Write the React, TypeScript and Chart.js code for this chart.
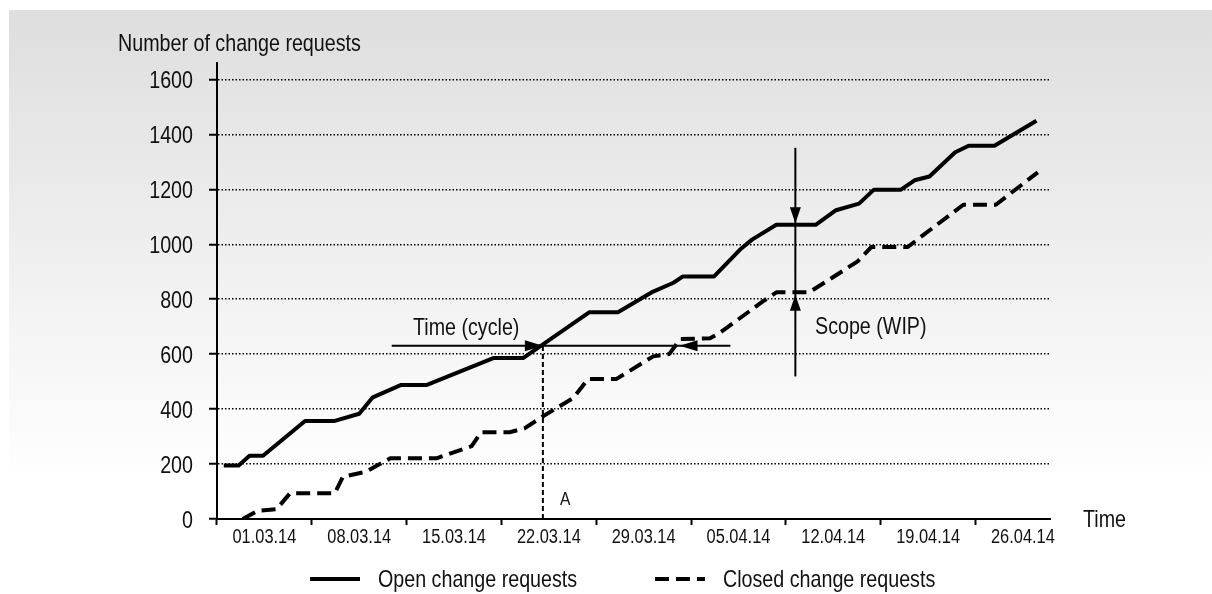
import React, { useEffect, useRef } from "react";
import { Chart, registerables } from "chart.js";

Chart.register(...registerables);

const FONT = "'Liberation Sans', Arial, sans-serif";
const NARROW = 0.82; // horizontal condensing, Arial Narrow-like
const INK = "#111111";

// x axis: days counted from 01.03.14, one label per week
const weekLabels = ["01.03.14", "08.03.14", "15.03.14", "22.03.14", "29.03.14", "05.04.14", "12.04.14", "19.04.14", "26.04.14"];
const weekDays = [0, 7, 14, 21, 28, 35, 42, 49, 56];
const yTicks = [0, 200, 400, 600, 800, 1000, 1200, 1400, 1600];

// Open change requests (cumulative)
const openDays = [-3, -1.9, -1.1, -0.1, 3, 5.2, 7, 8, 10.1, 12, 16.9, 19.1, 24, 26.1, 28.7, 30.2, 30.9, 33.2, 35.1, 36, 37.8, 40.7, 42.2, 43.9, 45, 47, 48, 49.1, 51, 52, 53.9, 57];
const openValues = [195, 195, 230, 230, 357, 357, 383, 443, 488, 488, 586, 586, 753, 753, 828, 860, 883, 883, 980, 1017, 1071, 1071, 1124, 1148, 1199, 1199, 1233, 1247, 1335, 1359, 1359, 1450];

// Closed change requests (cumulative)
const closedDays = [-1.6, -0.5, 0.9, 1.9, 5.2, 5.8, 7.5, 9.3, 12.7, 15.3, 16, 18.1, 19.2, 20.6, 22.8, 23.9, 26, 28.7, 29.9, 30.7, 32.9, 33.6, 36.8, 37.8, 40.2, 41.5, 43.8, 44.8, 47.5, 48.2, 51.6, 54, 57.1];
const closedValues = [0, 30, 36, 94, 94, 154, 172, 221, 221, 265, 316, 316, 330, 375, 440, 510, 510, 592, 601, 655, 658, 677, 792, 825, 825, 865, 938, 990, 990, 1017, 1144, 1144, 1262];

// annotation anchors (data units)
const cycleLevel = 631;
const cycleLineFrom = 9.4;
const cycleLineTo = 34.4;
const cycleStartDay = 20.56;
const cycleEndDay = 30.65;
const scopeDay = 39.2;
const scopeFrom = 1351;
const scopeTo = 519;
const scopeOpen = 1077;
const scopeClosed = 816;

function narrowText(
  ctx: CanvasRenderingContext2D,
  text: string,
  x: number,
  y: number,
  size: number,
  align: CanvasTextAlign,
  baseline: CanvasTextBaseline
) {
  ctx.save();
  ctx.translate(x, y);
  ctx.scale(NARROW, 1);
  ctx.font = `${size}px ${FONT}`;
  ctx.fillStyle = INK;
  ctx.textAlign = align;
  ctx.textBaseline = baseline;
  ctx.fillText(text, 0, 0);
  ctx.restore();
}

function arrowHead(ctx: CanvasRenderingContext2D, x: number, y: number, dir: string, len: number, half: number) {
  ctx.beginPath();
  ctx.moveTo(x, y);
  if (dir === "right") {
    ctx.lineTo(x - len, y - half);
    ctx.lineTo(x - len, y + half);
  } else if (dir === "left") {
    ctx.lineTo(x + len, y - half);
    ctx.lineTo(x + len, y + half);
  } else if (dir === "down") {
    ctx.lineTo(x - half, y - len);
    ctx.lineTo(x + half, y - len);
  } else {
    ctx.lineTo(x - half, y + len);
    ctx.lineTo(x + half, y + len);
  }
  ctx.closePath();
  ctx.fill();
}

const decorPlugin = {
  id: "decor",
  beforeDraw(chart: any) {
    const { ctx, width, height } = chart;
    ctx.save();
    ctx.fillStyle = "#ffffff";
    ctx.fillRect(0, 0, width, height);
    const g = ctx.createLinearGradient(0, 10, 0, 480);
    g.addColorStop(0, "#dedede");
    g.addColorStop(1, "#ffffff");
    ctx.fillStyle = g;
    ctx.fillRect(9, 10, width - 9, height - 10);
    ctx.restore();
  },
  afterDatasetsDraw(chart: any) {
    const { ctx } = chart;
    const xs = chart.scales.x;
    const ys = chart.scales.y;
    ctx.save();
    ctx.fillStyle = "#000";
    ctx.strokeStyle = "#000";

    // tick labels from the scales' own ticks
    xs.ticks.forEach((t: any, i: number) => {
      narrowText(ctx, String(t.label), xs.getPixelForTick(i), ys.bottom + 18, 20, "center", "middle");
    });
    ys.ticks.forEach((t: any, i: number) => {
      narrowText(ctx, String(t.label), ys.right - 24, ys.getPixelForTick(i) + 2, 24, "right", "middle");
    });

    // Vertical dashed marker A
    const xA = xs.getPixelForValue(cycleStartDay);
    const yCycle = ys.getPixelForValue(cycleLevel);
    ctx.lineWidth = 2;
    ctx.setLineDash([5, 3]);
    ctx.beginPath();
    ctx.moveTo(xA, ys.getPixelForValue(0));
    ctx.lineTo(xA, yCycle);
    ctx.stroke();
    ctx.setLineDash([]);

    // Time (cycle) arrow
    ctx.lineWidth = 2;
    ctx.beginPath();
    ctx.moveTo(xs.getPixelForValue(cycleLineFrom), yCycle);
    ctx.lineTo(xs.getPixelForValue(cycleLineTo), yCycle);
    ctx.stroke();
    arrowHead(ctx, xA, yCycle, "right", 18, 5.5);
    arrowHead(ctx, xs.getPixelForValue(cycleEndDay), yCycle, "left", 18, 5.5);

    // Scope (WIP) arrow
    const xS = xs.getPixelForValue(scopeDay);
    ctx.beginPath();
    ctx.moveTo(xS, ys.getPixelForValue(scopeFrom));
    ctx.lineTo(xS, ys.getPixelForValue(scopeTo));
    ctx.stroke();
    arrowHead(ctx, xS, ys.getPixelForValue(scopeOpen), "down", 16, 5.5);
    arrowHead(ctx, xS, ys.getPixelForValue(scopeClosed), "up", 16, 5.5);

    // Texts
    narrowText(ctx, "Number of change requests", 118, 51, 24, "left", "alphabetic");
    narrowText(ctx, "Time", 1083, 527, 24, "left", "alphabetic");
    narrowText(ctx, "Time (cycle)", 413, 335, 24, "left", "alphabetic");
    narrowText(ctx, "Scope (WIP)", 815, 334, 24, "left", "alphabetic");
    narrowText(ctx, "A", xA + 17, 505, 19, "left", "alphabetic");

    // Legend
    const legendY = 579;
    const legendX = [310, 655];
    chart.data.datasets.forEach((ds: any, i: number) => {
      const x0 = legendX[i];
      ctx.save();
      ctx.strokeStyle = ds.borderColor;
      ctx.lineWidth = ds.borderWidth;
      ctx.setLineDash(ds.borderDash || []);
      ctx.beginPath();
      ctx.moveTo(x0, legendY);
      ctx.lineTo(x0 + 50, legendY);
      ctx.stroke();
      ctx.restore();
      narrowText(ctx, ds.label, x0 + 68, legendY + 1, 24, "left", "middle");
    });
    ctx.restore();
  },
};

export default function App() {
  const ref = useRef<HTMLCanvasElement | null>(null);

  useEffect(() => {
    document.body.style.margin = "0";
    const canvas = ref.current;
    if (!canvas) return;
    const chart = new Chart(canvas, {
      type: "line",
      data: {
        datasets: [
          {
            label: "Open change requests",
            data: openDays.map((d, i) => ({ x: d, y: openValues[i] })),
            borderColor: "#000",
            borderWidth: 4,
            pointRadius: 0,
            tension: 0,
            fill: false,
            borderJoinStyle: "round",
          },
          {
            label: "Closed change requests",
            data: closedDays.map((d, i) => ({ x: d, y: closedValues[i] })),
            borderColor: "#000",
            borderWidth: 4,
            borderDash: [14, 7],
            pointRadius: 0,
            tension: 0,
            fill: false,
            borderJoinStyle: "round",
          },
        ],
      },
      options: {
        animation: false,
        responsive: false,
        devicePixelRatio: 1,
        layout: { padding: { top: 63, right: 162, left: 0, bottom: 0 } },
        plugins: {
          legend: { display: false },
          tooltip: { enabled: false },
          title: { display: false },
        },
        scales: {
          x: {
            type: "linear",
            min: -3.5,
            max: 58,
            afterBuildTicks: (s: any) => {
              s.ticks = weekDays.map((v) => ({ value: v }));
            },
            afterFit: (s: any) => {
              s.height = 75;
            },
            ticks: {
              display: false,
              callback: (_v: any, i: number) => weekLabels[i],
              autoSkip: false,
              maxRotation: 0,
              minRotation: 0,
            },
            grid: {
              offset: true,
              drawOnChartArea: false,
              drawTicks: true,
              tickLength: 6,
              tickWidth: 2,
              tickColor: "#000",
              color: "#000",
            },
            border: { display: true, color: "#000", width: 2 },
          },
          y: {
            type: "linear",
            min: 0,
            max: 1660,
            afterBuildTicks: (s: any) => {
              s.ticks = yTicks.map((v) => ({ value: v }));
            },
            afterFit: (s: any) => {
              s.width = 217;
            },
            ticks: {
              display: false,
              callback: (v: any) => String(v),
            },
            grid: {
              color: "#000",
              lineWidth: 1.5,
              drawTicks: true,
              tickLength: 8,
              tickWidth: 2,
              tickColor: "#000",
              tickBorderDash: [],
            },
            border: { display: true, color: "#000", width: 2, dash: [1.5, 2] },
          },
        },
      } as any,
      plugins: [decorPlugin],
    });
    return () => chart.destroy();
  }, []);

  return (
    <div style={{ width: 1212, height: 594 }}>
      <canvas ref={ref} width={1212} height={594} style={{ display: "block" }} />
    </div>
  );
}
